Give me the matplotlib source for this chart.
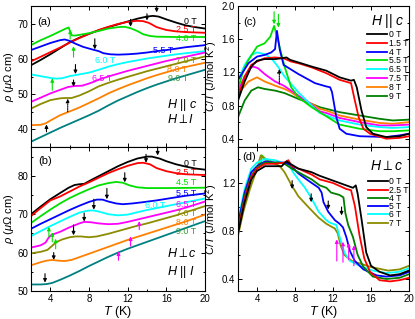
import matplotlib
matplotlib.use("Agg")
import matplotlib.pyplot as plt
from matplotlib.ticker import MultipleLocator

plt.rcParams['font.family'] = ['Liberation Sans', 'DejaVu Sans']
plt.rcParams['mathtext.fontset'] = 'custom'
plt.rcParams['mathtext.rm'] = 'Liberation Sans'
plt.rcParams['mathtext.it'] = 'Liberation Sans:italic'
plt.rcParams['mathtext.bf'] = 'Liberation Sans:bold'

BLACK = 'black'
RED = '#ff0000'
GREEN = '#00e000'
BLUE = '#0000ff'
CYAN = '#00ffff'
MAGENTA = '#ff00ff'
OLIVE = '#8c8c00'
ORANGE = '#ff8000'
TEAL = '#008080'
DKGREEN = '#008000'
LBLGREEN = '#339933'

# ---------------- panel (a): rho, H || c ----------------
a_names = ["0 T", "2.5 T", "4.0 T", "5.5 T", "6.0 T", "6.5 T", "7.0 T", "8.0 T", "9.0 T"]
a_0T_T = [2, 3, 4, 5, 6, 7, 8, 9, 10, 11, 12, 13, 14, 14.6, 15.2, 16, 17, 18, 19, 20]
a_0T_v = [58.2, 59.7, 61.3, 63.0, 64.7, 66.0, 67.1, 68.1, 69.0, 69.8, 70.6, 71.4, 72.0, 72.2, 72.0, 71.2, 70.3, 69.5, 69.0, 68.6]
a_25T_T = [2, 3, 4, 5, 6, 7, 8, 9, 10, 11, 12, 13, 13.6, 14.2, 15, 16, 17, 18, 20]
a_25T_v = [59.3, 60.6, 61.9, 63.2, 64.6, 65.9, 67.1, 68.2, 69.1, 69.9, 70.5, 70.8, 70.7, 70.2, 69.0, 68.2, 67.8, 67.6, 67.4]
a_40T_T = [2, 3, 4, 5, 5.6, 5.9, 6.05, 6.2, 6.5, 7, 8, 9, 10, 11, 11.7, 12.3, 13, 13.6, 14.3, 15, 17, 20]
a_40T_v = [63.9, 65.3, 66.5, 67.8, 68.6, 68.9, 67.8, 66.7, 66.6, 66.8, 67.3, 67.9, 68.6, 69.0, 69.1, 68.7, 67.9, 67.0, 66.5, 66.3, 66.2, 66.2]
a_55T_T = [2, 3, 4, 5, 5.5, 6, 6.6, 7.4, 8.3, 9, 9.5, 10.2, 11, 12, 13, 14, 15, 16, 17, 18, 19, 20]
a_55T_v = [62.5, 63.5, 64.5, 65.3, 65.5, 65.1, 64.3, 63.4, 62.7, 62.2, 61.6, 61.3, 61.2, 61.3, 61.5, 61.8, 62.2, 62.5, 62.9, 63.3, 63.6, 63.9]
a_60T_T = [2, 3, 4, 4.6, 5.2, 6, 7, 8, 9, 10, 11, 12, 13, 14, 15, 16, 17, 18, 19, 20]
a_60T_v = [55.6, 55.1, 54.6, 54.4, 54.5, 55.1, 55.6, 56.1, 56.9, 57.8, 58.5, 59.1, 59.6, 60.1, 60.5, 60.9, 61.3, 61.6, 61.9, 62.2]
a_65T_T = [2, 3, 4, 5, 5.8, 6.5, 7.3, 8, 8.5, 9, 10, 11, 12, 13, 14, 15, 16, 17, 18, 19, 20]
a_65T_v = [47.8, 49.0, 50.2, 51.2, 52.0, 52.3, 52.4, 53.0, 53.5, 54.1, 55.0, 55.8, 56.6, 57.3, 58.0, 58.7, 59.4, 60.0, 60.6, 61.2, 61.8]
a_70T_T = [2, 3, 4, 5, 5.5, 6.2, 7, 8, 9, 10, 11, 12, 13, 14, 15, 16, 17, 18, 19, 20]
a_70T_v = [45.9, 47.2, 48.3, 48.8, 48.9, 48.9, 49.6, 50.8, 52.2, 53.2, 54.1, 54.9, 55.7, 56.5, 57.2, 57.9, 58.6, 59.3, 60.0, 60.7]
a_80T_T = [2, 3, 3.5, 4, 5, 6, 7, 8, 9, 10, 11, 12, 13, 14, 15, 16, 17, 18, 19, 20]
a_80T_v = [41.2, 41.3, 41.7, 42.5, 44.0, 45.1, 46.2, 47.5, 48.8, 50.2, 51.4, 52.5, 53.5, 54.5, 55.4, 56.2, 57.0, 57.7, 58.3, 58.9]
a_90T_T = [2, 3, 4, 5, 6, 7, 8, 9, 10, 11, 12, 13, 14, 15, 16, 17, 18, 19, 20]
a_90T_v = [36.5, 37.8, 39.1, 40.4, 41.6, 42.8, 44.0, 45.3, 46.8, 48.2, 49.4, 50.6, 51.7, 52.7, 53.6, 54.5, 55.3, 56.1, 56.9]

# label positions (T, value) for panel (a)
a_lab_T = [19.1, 19.1, 19.1, 16.7, 10.7, 10.4, 19.1, 18.2, 18.3]
a_lab_v = [70.7, 68.2, 65.8, 62.4, 59.6, 54.4, 59.6, 57.0, 54.3]

# arrows (T, tail, tip)
a_arr_T = [15.0, 14.0, 12.3, 8.6, 6.05, 6.4, 6.6, 4.2, 6.4, 5.8, 3.6]
a_arr_from = [75.0, 72.8, 71.2, 65.7, 65.6, 60.5, 58.4, 51.1, 54.0, 45.0, 39.3]
a_arr_to = [73.2, 70.9, 69.1, 62.7, 68.3, 63.6, 55.7, 54.5, 52.1, 48.7, 41.4]
a_arr_col = [BLACK, BLACK, BLACK, BLACK, GREEN, GREEN, BLACK, GREEN, BLACK, BLACK, BLACK]
a_arr_dot = [False] * 9 + [True, False]

# ---------------- panel (b): rho, H perp c ----------------
b_names = ["0 T", "2.5 T", "4.5 T", "5.5 T", "6.0 T", "6.5 T", "7.0 T", "8.0 T", "9.0 T"]
b_0T_T = [2, 3, 4, 5, 5.9, 6.5, 7.0, 7.5, 8.3, 9, 10, 11, 12, 13, 14, 14.5, 15.3, 16, 17, 18, 19, 20]
b_0T_v = [70.0, 72.0, 73.9, 75.5, 76.9, 77.6, 77.8, 77.9, 79.0, 79.9, 81.2, 82.5, 83.6, 84.5, 85.0, 85.0, 84.5, 83.8, 83.0, 82.4, 81.9, 81.6]
b_25T_T = [2, 3, 4, 5, 6, 7, 8, 9, 10, 11, 12, 13, 13.6, 14.3, 15, 16, 17, 18, 19, 20]
b_25T_v = [69.5, 71.6, 73.6, 74.6, 75.9, 77.2, 78.3, 79.5, 80.7, 81.7, 82.6, 83.3, 83.4, 83.0, 82.0, 81.2, 80.7, 80.4, 80.3, 80.2]
b_45T_T = [2, 3, 4, 5, 6, 7, 8, 9, 10, 10.8, 11.5, 12.2, 13, 14, 16, 20]
b_45T_v = [67.7, 69.5, 71.2, 72.8, 74.2, 75.4, 76.5, 77.5, 78.1, 78.4, 78.2, 77.5, 77.0, 76.8, 76.8, 76.9]
b_55T_T = [2, 3, 4, 5, 6, 7, 8, 8.8, 9.4, 10, 10.8, 11.5, 12.5, 13.5, 15, 16, 17, 18, 19, 20]
b_55T_v = [66.2, 67.5, 68.7, 69.9, 71.1, 72.2, 73.2, 73.8, 73.8, 73.3, 72.8, 72.6, 72.8, 73.1, 73.6, 74.0, 74.4, 74.8, 75.1, 75.4]
b_60T_T = [2, 3, 4, 5, 6, 7, 7.8, 8.4, 9, 10, 11, 12, 13, 14, 15, 16, 17, 18, 19, 20]
b_60T_v = [64.3, 65.6, 66.9, 68.1, 69.3, 70.4, 70.9, 71.0, 70.7, 70.0, 69.7, 69.9, 70.5, 71.1, 71.6, 72.1, 72.6, 73.1, 73.6, 74.1]
b_65T_T = [2, 3, 3.5, 3.8, 4.1, 5, 6, 7, 7.5, 8.2, 9, 10, 11, 12, 13, 14, 15, 16, 17, 18, 19, 20]
b_65T_v = [61.3, 61.9, 62.6, 63.8, 64.6, 65.4, 66.6, 67.6, 68.0, 67.9, 67.6, 67.4, 67.5, 68.0, 68.6, 69.2, 69.8, 70.4, 71.0, 71.7, 72.5, 73.3]
b_70T_T = [2, 3, 3.7, 4.2, 4.6, 5.2, 6, 6.6, 7.2, 8, 8.8, 10, 11, 12, 13, 14, 15, 16, 17, 18, 19, 20]
b_70T_v = [59.8, 60.2, 60.7, 61.8, 62.7, 63.4, 64.0, 64.2, 64.2, 64.0, 64.2, 64.9, 65.6, 66.3, 67.0, 67.6, 68.3, 69.0, 69.7, 70.5, 71.3, 72.1]
b_80T_T = [2, 3, 3.6, 4.2, 4.8, 5.5, 6.2, 7, 8, 9, 10, 11, 12, 13, 14, 15, 16, 17, 18, 19, 20]
b_80T_v = [56.7, 57.5, 57.9, 58.1, 57.9, 57.8, 58.1, 58.8, 59.7, 60.6, 61.5, 62.4, 63.3, 64.1, 64.9, 65.7, 66.5, 67.3, 68.1, 69.0, 69.9]
b_90T_T = [2, 3, 3.6, 4.2, 5, 6, 7, 8, 9, 10, 11, 12, 13, 14, 15, 16, 17, 18, 19, 20]
b_90T_v = [51.7, 51.7, 51.8, 52.1, 52.9, 54.0, 55.2, 56.5, 57.7, 58.9, 60.0, 61.0, 61.9, 62.8, 63.7, 64.6, 65.5, 66.4, 67.3, 68.2]

b_lab_T = [19.1, 19.1, 19.1, 19.1, 15.9, 19.1, 19.1, 19.1, 19.1]
b_lab_v = [83.2, 80.9, 78.3, 75.3, 72.3, 72.6, 70.3, 67.9, 65.5]

b_arr_T = [15.1, 13.9, 11.7, 9.85, 8.5, 7.5, 6.4, 3.85, 4.2, 4.55, 4.35, 3.45, 13.2, 12.3, 11.05]
b_arr_from = [87.5, 85.6, 80.8, 76.7, 73.9, 70.3, 67.2, 64.1, 62.8, 61.0, 60.0, 54.5, 66.0, 61.7, 58.0]
b_arr_to = [85.3, 83.4, 78.3, 73.9, 71.2, 68.1, 64.5, 66.7, 65.3, 63.6, 58.1, 52.2, 68.2, 64.2, 60.3]
b_arr_col = [BLACK] * 7 + [GREEN, GREEN, GREEN, BLACK, BLACK, MAGENTA, MAGENTA, MAGENTA]

# ---------------- panel (c): C/T, H || c ----------------
c_names = ["0 T", "1.5 T", "4 T", "5.5 T", "6.5 T", "7.5 T", "8 T", "9 T"]
c_0T_T = [2, 2.7, 3.4, 4, 4.8, 5.9, 6.6, 7.1, 7.5, 8.35, 9.75, 11.3, 12.7, 13.9, 14.2, 14.5, 15.0, 15.5, 16.2, 17.6, 19, 20]
c_0T_v = [0.86, 1.09, 1.27, 1.34, 1.36, 1.36, 1.37, 1.38, 1.35, 1.32, 1.27, 1.22, 1.14, 1.10, 1.11, 1.02, 0.74, 0.54, 0.46, 0.42, 0.43, 0.46]
c_15T_T = [2, 2.7, 3.4, 4, 4.8, 5.9, 6.8, 7.6, 8.35, 9.75, 11.3, 12.7, 13.9, 14.3, 14.7, 15.2, 15.9, 17.6, 19, 20]
c_15T_v = [0.90, 1.15, 1.29, 1.33, 1.37, 1.38, 1.37, 1.33, 1.31, 1.26, 1.19, 1.11, 1.07, 0.86, 0.66, 0.52, 0.46, 0.40, 0.41, 0.43]
c_4T_T = [2, 3.1, 4, 4.8, 5.5, 5.9, 6.1, 6.4, 6.8, 8.35, 10.1, 11.3, 11.7, 11.9, 12.35, 12.7, 13.4, 14.8, 17.6, 19, 20]
c_4T_v = [1.11, 1.31, 1.39, 1.41, 1.44, 1.48, 1.70, 1.47, 1.29, 1.18, 1.07, 1.03, 1.02, 0.96, 0.66, 0.52, 0.46, 0.43, 0.42, 0.44, 0.46]
c_55T_T = [2, 2.5, 3, 3.5, 4, 4.8, 5.4, 5.8, 6.2, 6.9, 7.6, 8.35, 9.75, 11.3, 12.7, 14.8, 16.9, 18.3, 20]
c_55T_v = [1.00, 1.20, 1.33, 1.42, 1.51, 1.55, 1.63, 1.76, 1.59, 1.27, 1.02, 0.90, 0.78, 0.67, 0.57, 0.52, 0.49, 0.49, 0.50]
c_65T_T = [2, 2.7, 3.4, 4, 4.8, 5.5, 6.2, 6.9, 8.35, 9.75, 10.6, 11.3, 12.7, 14.8, 16.9, 18.3, 20]
c_65T_v = [1.10, 1.29, 1.41, 1.44, 1.42, 1.37, 1.27, 1.15, 0.96, 0.80, 0.71, 0.68, 0.62, 0.57, 0.54, 0.53, 0.54]
c_75T_T = [2, 2.7, 3.3, 3.6, 4.1, 4.8, 5.9, 6.8, 7.6, 8.35, 9.4, 10.6, 11.3, 12.7, 14.8, 16.9, 18.3, 20]
c_75T_v = [0.98, 1.15, 1.25, 1.27, 1.25, 1.18, 1.09, 1.04, 0.98, 0.92, 0.84, 0.73, 0.71, 0.65, 0.60, 0.56, 0.56, 0.57]
c_8T_T = [2, 3.1, 4, 4.8, 5.9, 6.9, 7.6, 8.35, 9.75, 10.6, 11.3, 12.7, 14.8, 16.9, 18.3, 20]
c_8T_v = [0.94, 1.09, 1.14, 1.09, 1.04, 1.00, 0.96, 0.90, 0.82, 0.76, 0.74, 0.68, 0.63, 0.59, 0.58, 0.60]
c_9T_T = [2, 2.7, 3.4, 4.1, 4.8, 5.9, 6.9, 8.35, 9.75, 10.6, 11.3, 12.7, 14.8, 16.9, 18.3, 20]
c_9T_v = [0.66, 0.86, 0.98, 1.02, 1.00, 0.98, 0.95, 0.88, 0.82, 0.78, 0.76, 0.72, 0.68, 0.64, 0.62, 0.63]

c_arr_T = [5.8, 6.25, 6.35]
c_arr_from = [1.93, 1.90, 1.06]
c_arr_to = [1.78, 1.74, 1.24]
c_arr_col = [GREEN, GREEN, BLACK]
c_arr_dot = [False, False, True]

# ---------------- panel (d): C/T, H perp c ----------------
d_names = ["0 T", "2.5 T", "4 T", "5 T", "6 T", "7 T"]
d_0T_T = [2, 2.7, 3.4, 4, 4.85, 5.9, 6.6, 7.1, 7.5, 8.35, 9.75, 10.6, 12, 13.4, 14.1, 14.4, 14.6, 15, 15.5, 16, 16.9, 18, 19, 20]
d_0T_v = [0.78, 1.04, 1.23, 1.30, 1.34, 1.34, 1.34, 1.38, 1.36, 1.32, 1.29, 1.26, 1.22, 1.18, 1.16, 1.18, 1.11, 0.90, 0.62, 0.51, 0.46, 0.43, 0.44, 0.47]
d_25T_T = [2, 2.7, 3.4, 4, 4.85, 5.9, 6.9, 7.3, 7.65, 8.35, 9.75, 10.6, 12, 13.4, 13.9, 14.3, 14.8, 15.3, 15.9, 16.9, 18, 19, 20]
d_25T_v = [0.80, 1.07, 1.25, 1.32, 1.36, 1.36, 1.37, 1.39, 1.34, 1.32, 1.27, 1.23, 1.20, 1.15, 1.14, 1.01, 0.76, 0.57, 0.46, 0.39, 0.38, 0.39, 0.41]
d_4T_T = [2, 2.7, 3.4, 4, 4.85, 6.25, 6.9, 7.65, 8.35, 9.75, 10.6, 11.3, 11.8, 12.7, 13.1, 13.3, 13.6, 14.1, 14.6, 15.2, 16.2, 17.6, 19, 20]
d_4T_v = [0.82, 1.09, 1.26, 1.33, 1.37, 1.37, 1.36, 1.32, 1.29, 1.23, 1.18, 1.16, 1.12, 1.10, 1.08, 0.95, 0.85, 0.75, 0.60, 0.50, 0.42, 0.40, 0.41, 0.44]
d_5T_T = [2, 2.7, 3.4, 4, 4.85, 5.9, 6.9, 7.5, 8.35, 9.4, 10.5, 10.8, 11.0, 11.5, 12.2, 12.7, 13.05, 13.4, 13.8, 14.3, 15.2, 16.6, 17.6, 19, 20]
d_5T_v = [0.86, 1.12, 1.29, 1.34, 1.38, 1.37, 1.37, 1.35, 1.28, 1.22, 1.16, 1.12, 1.04, 0.96, 0.89, 0.86, 0.83, 0.75, 0.63, 0.55, 0.48, 0.43, 0.42, 0.43, 0.46]
d_6T_T = [2, 2.7, 3.4, 4, 4.85, 5.9, 6.6, 7.3, 7.8, 8.35, 9.05, 9.75, 10.5, 11.3, 11.65, 12.35, 12.7, 13.2, 13.8, 14.8, 16.2, 17.6, 19, 20]
d_6T_v = [0.89, 1.15, 1.32, 1.37, 1.40, 1.39, 1.37, 1.36, 1.29, 1.23, 1.16, 1.07, 0.96, 0.89, 0.87, 0.85, 0.75, 0.62, 0.55, 0.51, 0.47, 0.45, 0.46, 0.49]
d_7T_T = [2, 2.56, 3.26, 4, 4.4, 4.85, 5.9, 6.4, 6.9, 7.65, 8.35, 9.4, 10.5, 11.3, 12.2, 12.5, 12.8, 13.2, 14, 16, 17.8, 19, 20]
d_7T_v = [0.76, 0.96, 1.15, 1.32, 1.43, 1.40, 1.36, 1.34, 1.29, 1.18, 1.09, 1.00, 0.91, 0.86, 0.82, 0.78, 0.68, 0.60, 0.55, 0.50, 0.47, 0.48, 0.51]
d_spike_T = [4.2, 4.45, 4.5, 4.9, 5.5]
d_spike_v = [1.36, 1.37, 1.43, 1.40, 1.38]

d_arr_T = [7.7, 9.7, 11.5, 12.9, 12.4, 13.05, 13.65, 14.2]
d_arr_from = [1.22, 1.11, 1.05, 1.00, 0.55, 0.54, 0.56, 0.51]
d_arr_to = [1.15, 1.04, 0.98, 0.93, 0.73, 0.71, 0.70, 0.68]
d_arr_col = [BLACK] * 4 + [MAGENTA] * 4

# ------------------------------------------------------------
fig = plt.figure(figsize=(4.15, 3.19), dpi=100)
ax_a = fig.add_axes([31 / 415, 1 - 147 / 319, 174 / 415, 141 / 319])
ax_b = fig.add_axes([31 / 415, 1 - 291 / 319, 174 / 415, 144 / 319])
ax_c = fig.add_axes([238 / 415, 1 - 147 / 319, 171 / 415, 141 / 319])
ax_d = fig.add_axes([238 / 415, 1 - 291 / 319, 171 / 415, 144 / 319])

LW = 1.3
LABFS = 6.4


def style(ax, ymaj, ymin, xlabels):
    ax.set_xlim(2, 20)
    ax.xaxis.set_major_locator(MultipleLocator(4))
    ax.xaxis.set_minor_locator(MultipleLocator(2))
    ax.yaxis.set_major_locator(MultipleLocator(ymaj))
    ax.yaxis.set_minor_locator(MultipleLocator(ymin))
    ax.tick_params(which='both', direction='in', top=True, right=True, labelsize=7, width=0.7, pad=2)
    ax.tick_params(which='major', length=3)
    ax.tick_params(which='minor', length=1.6)
    for s in ax.spines.values():
        s.set_linewidth(0.8)
    if not xlabels:
        ax.tick_params(labelbottom=False)
    else:
        ax.set_xlabel("$T$ (K)", fontsize=9, labelpad=0)


def arrows(ax, xs, froms, tos, cols, dots=None):
    for i in range(len(xs)):
        ls = (0, (1, 1)) if dots and dots[i] else '-'
        ax.annotate('', xy=(xs[i], tos[i]), xytext=(xs[i], froms[i]),
                    arrowprops=dict(arrowstyle='-|>', color=cols[i], lw=0.8, ls=ls,
                                    mutation_scale=5, shrinkA=0, shrinkB=0),
                    annotation_clip=False)


# panel (a)
a_curves = [(a_0T_T, a_0T_v, BLACK), (a_25T_T, a_25T_v, RED), (a_40T_T, a_40T_v, GREEN),
            (a_55T_T, a_55T_v, BLUE), (a_60T_T, a_60T_v, CYAN), (a_65T_T, a_65T_v, MAGENTA),
            (a_70T_T, a_70T_v, OLIVE), (a_80T_T, a_80T_v, ORANGE), (a_90T_T, a_90T_v, TEAL)]
for t, v, c in a_curves:
    ax_a.plot(t, v, color=c, lw=LW)
lab_cols = [BLACK, RED, GREEN, BLUE, CYAN, MAGENTA, OLIVE, ORANGE, LBLGREEN]
for i in range(len(a_names)):
    ax_a.text(a_lab_T[i], a_lab_v[i], a_names[i], color=lab_cols[i], fontsize=LABFS, ha='right', va='center')
arrows(ax_a, a_arr_T, a_arr_from, a_arr_to, a_arr_col, a_arr_dot)
ax_a.set_ylim(35, 75)
style(ax_a, 10, 5, False)
ax_a.set_ylabel(r"$\rho$ ($\mu\Omega$ cm)", fontsize=8, labelpad=1)
ax_a.text(0.035, 0.885, "(a)", transform=ax_a.transAxes, fontsize=8, va='center')
ax_a.text(16.1, 46.8, r"$H\ ||\ c$", fontsize=9, va='center')
ax_a.text(16.1, 42.8, r"$H\perp I$", fontsize=9, va='center')

# panel (b)
b_curves = [(b_0T_T, b_0T_v, BLACK), (b_25T_T, b_25T_v, RED), (b_45T_T, b_45T_v, GREEN),
            (b_55T_T, b_55T_v, BLUE), (b_60T_T, b_60T_v, CYAN), (b_65T_T, b_65T_v, MAGENTA),
            (b_70T_T, b_70T_v, OLIVE), (b_80T_T, b_80T_v, ORANGE), (b_90T_T, b_90T_v, TEAL)]
for t, v, c in b_curves:
    ax_b.plot(t, v, color=c, lw=LW)
for i in range(len(b_names)):
    ax_b.text(b_lab_T[i], b_lab_v[i], b_names[i], color=lab_cols[i], fontsize=LABFS, ha='right', va='center')
arrows(ax_b, b_arr_T, b_arr_from, b_arr_to, b_arr_col)
ax_b.set_ylim(50, 87.5)
style(ax_b, 10, 5, True)
ax_b.set_ylabel(r"$\rho$ ($\mu\Omega$ cm)", fontsize=8, labelpad=1)
ax_b.text(0.04, 0.905, "(b)", transform=ax_b.transAxes, fontsize=8, va='center')
ax_b.text(16.1, 59.8, r"$H\perp c$", fontsize=9, va='center')
ax_b.text(16.1, 55.0, r"$H\ ||\ I$", fontsize=9, va='center')

# panel (c)
c_curves = [(c_0T_T, c_0T_v, BLACK), (c_15T_T, c_15T_v, RED), (c_4T_T, c_4T_v, BLUE),
            (c_55T_T, c_55T_v, GREEN), (c_65T_T, c_65T_v, CYAN), (c_75T_T, c_75T_v, MAGENTA),
            (c_8T_T, c_8T_v, ORANGE), (c_9T_T, c_9T_v, DKGREEN)]
handles = {}
for i in [7, 6, 5, 4, 3, 2, 1, 0]:
    t, v, c = c_curves[i]
    handles[i], = ax_c.plot(t, v, color=c, lw=LW, label=c_names[i])
arrows(ax_c, c_arr_T, c_arr_from, c_arr_to, c_arr_col, c_arr_dot)
ax_c.set_ylim(0.3, 2.0)
style(ax_c, 0.4, 0.2, False)
ax_c.set_ylabel(r"$C/T$ (J/mol K$^2$)", fontsize=8, labelpad=2)
ax_c.text(0.03, 0.889, "(c)", transform=ax_c.transAxes, fontsize=8, va='center')
ax_c.text(16.0, 1.82, r"$H\ ||\ c$", fontsize=10, va='center')
ax_c.legend([handles[i] for i in range(8)], c_names, loc='upper left', bbox_to_anchor=(0.755, 0.83),
            frameon=False, fontsize=6.2, handlelength=2.3, handletextpad=0.2, labelspacing=-0.02,
            borderpad=0, borderaxespad=0)

# panel (d)
d_curves = [(d_0T_T, d_0T_v, BLACK), (d_25T_T, d_25T_v, RED), (d_4T_T, d_4T_v, DKGREEN),
            (d_5T_T, d_5T_v, BLUE), (d_6T_T, d_6T_v, CYAN), (d_7T_T, d_7T_v, OLIVE)]
ax_d.plot(d_spike_T, d_spike_v, color=GREEN, lw=LW)
handles = {}
for i in [5, 4, 3, 2, 1, 0]:
    t, v, c = d_curves[i]
    handles[i], = ax_d.plot(t, v, color=c, lw=LW, label=d_names[i])
arrows(ax_d, d_arr_T, d_arr_from, d_arr_to, d_arr_col)
ax_d.set_ylim(0.3, 1.5)
style(ax_d, 0.4, 0.2, True)
ax_d.set_ylabel(r"$C/T$ (J/mol K$^2$)", fontsize=8, labelpad=2)
ax_d.text(0.022, 0.928, "(d)", transform=ax_d.transAxes, fontsize=8, va='center')
ax_d.text(15.9, 1.345, r"$H\perp c$", fontsize=10, va='center')
ax_d.legend([handles[i] for i in range(6)], d_names, loc='upper left', bbox_to_anchor=(0.76, 0.79),
            frameon=False, fontsize=6.2, handlelength=2.3, handletextpad=0.2, labelspacing=-0.08,
            borderpad=0, borderaxespad=0)

fig.savefig("out.png", dpi=100)
